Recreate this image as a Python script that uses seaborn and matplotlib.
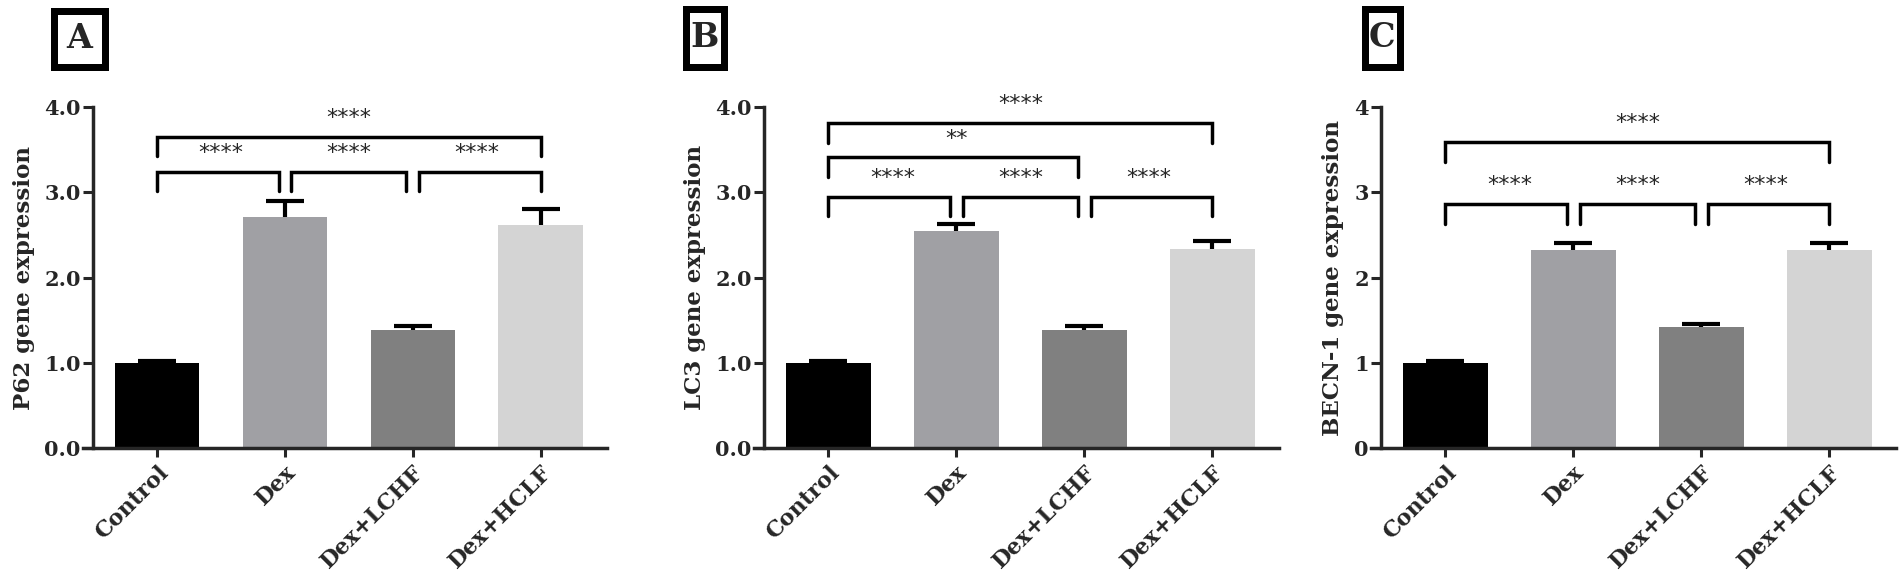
import matplotlib
matplotlib.use("Agg")
import matplotlib.pyplot as plt
import matplotlib.patches as patches
import numpy as np
import seaborn as sns

# data
groups = ["Control", "Dex", "Dex+LCHF", "Dex+HCLF"]
bar_colors = ["#000000", "#a0a0a4", "#808080", "#d4d4d4"]

p62_mean = [1.00, 2.71, 1.39, 2.62]
p62_sem = [0.02, 0.19, 0.04, 0.18]
lc3_mean = [1.00, 2.54, 1.38, 2.33]
lc3_sem = [0.02, 0.09, 0.05, 0.10]
becn1_mean = [1.00, 2.32, 1.42, 2.32]
becn1_sem = [0.02, 0.08, 0.04, 0.08]

# significance brackets: (group i, group j, bracket height, label)
p62_sig = [(0, 1, 3.24, "****"), (1, 2, 3.24, "****"), (2, 3, 3.24, "****"),
           (0, 3, 3.65, "****")]
lc3_sig = [(0, 1, 2.95, "****"), (1, 2, 2.95, "****"), (2, 3, 2.95, "****"),
           (0, 2, 3.41, "**"), (0, 3, 3.81, "****")]
becn1_sig = [(0, 1, 2.86, "****"), (1, 2, 2.86, "****"), (2, 3, 2.86, "****"),
             (0, 3, 3.59, "****")]

panels = [
    ("A", "P62 gene expression", p62_mean, p62_sem, p62_sig, "{:.1f}"),
    ("B", "LC3 gene expression", lc3_mean, lc3_sem, lc3_sig, "{:.1f}"),
    ("C", "BECN-1 gene expression", becn1_mean, becn1_sem, becn1_sig, "{:.0f}"),
]

sns.set_style("ticks")
plt.rcParams["font.family"] = ["DejaVu Serif"]
plt.rcParams["font.weight"] = "bold"

W, H = 1902, 574
fig = plt.figure(figsize=(W / 100, H / 100), dpi=100)

# axes placement in pixels (left, right), shared bottom/top
ax_px = [(83, 607), (754, 1279), (1371, 1896)]
# panel letter boxes in pixels (x0, x1, y0, y1)
box_px = [(50, 108, 7, 70), (682, 727, 5, 70), (1361, 1403, 5, 70)]
bottom_px, top_px = 448, 107


def draw_panel(ax, ylabel, means, sems, sigs, fmt):
    sns.barplot(x=groups, y=means, hue=groups, palette=bar_colors, legend=False,
                width=0.66, saturation=1, ax=ax, edgecolor="none", zorder=2)
    # error bars sit behind the bars so only the upper half shows
    x = np.arange(len(groups))
    ax.errorbar(x, means, yerr=sems, fmt="none", ecolor="black",
                elinewidth=3, capsize=14, capthick=3, zorder=1)

    ax.set_xlim(-0.58, 3.52)
    ax.set_ylim(0, 4)
    ticks = np.arange(0, 5)
    ax.set_yticks(ticks)
    ax.set_yticklabels([fmt.format(t) for t in ticks])
    ax.spines["left"].set_position(("data", -0.5))
    ax.spines["left"].set_bounds(0, 4)
    for side in ["left", "bottom"]:
        ax.spines[side].set_linewidth(2.5)
        ax.spines[side].set_zorder(3)
    sns.despine(ax=ax)
    ax.tick_params(axis="y", length=7, width=2.2, labelsize=15, pad=2)
    ax.tick_params(axis="x", length=6.5, width=2.2, labelsize=16, pad=3)
    plt.setp(ax.get_xticklabels(), rotation=45, ha="right",
             rotation_mode="anchor", fontweight="bold")
    plt.setp(ax.get_yticklabels(), fontweight="bold")
    ax.set_xlabel("")
    ax.set_ylabel(ylabel, fontsize=16.5, fontweight="bold", labelpad=7)

    drop = 0.23
    for i, j, top, label in sigs:
        x1 = i + 0.05 if i in (1, 2) else i
        x2 = j - 0.05 if j in (1, 2) else j
        ax.plot([x1, x1, x2, x2], [top - drop, top, top, top - drop],
                color="black", lw=2.5, clip_on=False, solid_joinstyle="miter")
        ax.text((i + j) / 2, top + 0.22, label, ha="center", va="center",
                fontsize=16, fontweight="normal", family="DejaVu Sans",
                clip_on=False)


for (letter, ylabel, means, sems, sigs, fmt), (l, r), (bx0, bx1, by0, by1) in zip(
        panels, ax_px, box_px):
    ax = fig.add_axes([l / W, 1 - bottom_px / H, (r - l) / W,
                       (bottom_px - top_px) / H])
    draw_panel(ax, ylabel, means, sems, sigs, fmt)

    lw_px = 7
    rect = patches.Rectangle(((bx0 + lw_px / 2) / W, 1 - (by1 - lw_px / 2) / H),
                             (bx1 - bx0 - lw_px) / W, (by1 - by0 - lw_px) / H,
                             transform=fig.transFigure, fill=False,
                             edgecolor="black", linewidth=lw_px * 0.72,
                             joinstyle="miter")
    fig.patches.append(rect)
    fig.text((bx0 + bx1) / 2 / W, 1 - (by0 + by1) / 2 / H, letter,
             ha="center", va="center", fontsize=24, fontweight="bold")

fig.savefig("out.png", dpi=100)
